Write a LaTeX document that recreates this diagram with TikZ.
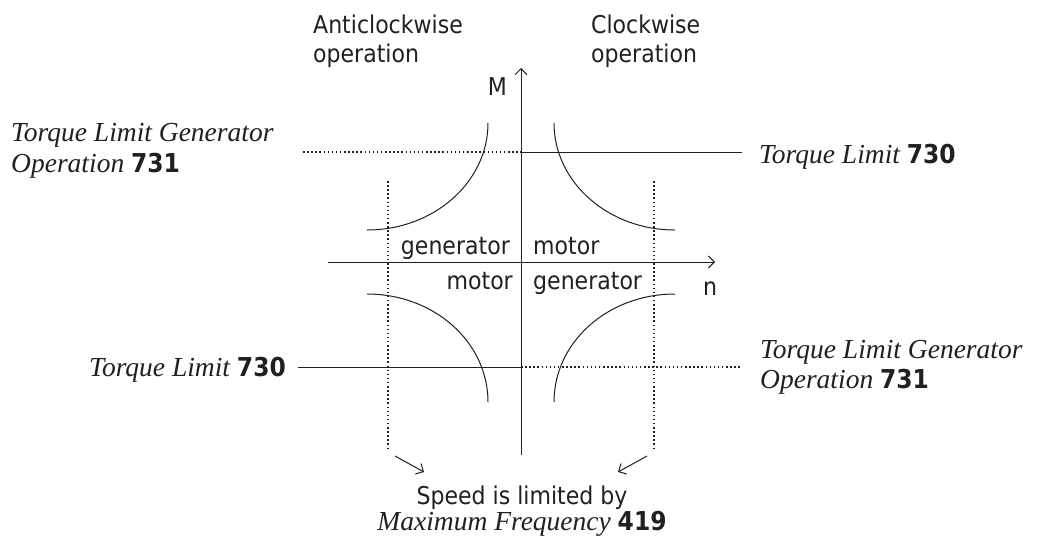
\documentclass[tikz,border=0pt]{standalone}
\usepackage{fontspec}
\setmainfont{Liberation Serif}
\setsansfont{DejaVu Sans Condensed}
\usetikzlibrary{arrows.meta}
\definecolor{ink}{HTML}{231F20}
\begin{document}
\begin{tikzpicture}[x=1pt,y=-1pt,
  solidline/.style={draw=ink, line width=1pt},
  dotline/.style={draw=ink, line width=1.5pt, dash pattern=on 1.5pt off 2.6pt},
  tipline/.style={draw=ink, line width=1pt, -{Straight Barb[length=6pt,width=12pt]}},
  sans/.style={font=\fontsize{24.5}{28}\selectfont\sffamily, inner sep=0pt, text=ink},
  ital/.style={font=\fontsize{27.5}{32}\selectfont\itshape, inner sep=0pt, text=ink}]
\newcommand{\bnum}[1]{{\upshape\sffamily\bfseries\fontsize{26}{28}\selectfont #1}}
\fill[white] (0,0) rectangle (1041,542);
\useasboundingbox (0,0) rectangle (1041,542);

% axes
\coordinate (ybot) at (521,455);
\coordinate (ytop) at (521,68);
\coordinate (xleft) at (328,262);
\coordinate (xright) at (715,262);
\draw[tipline] (ybot) -- (ytop);
\draw[tipline] (xleft) -- (xright);

% torque limit lines
\coordinate (tl1) at (303,152);
\coordinate (tm) at (521,152);
\coordinate (tr) at (742,152);
\draw[dotline] (tl1) -- (tm);
\draw[solidline] (tm) -- (tr);
\coordinate (bl1) at (298,367);
\coordinate (bm) at (521,367);
\coordinate (br) at (740,367);
\draw[solidline] (bl1) -- (bm);
\draw[dotline] (bm) -- (br);

% speed limit lines
\coordinate (vl1) at (388,181);
\coordinate (vl2) at (388,450);
\coordinate (vr1) at (654,181);
\coordinate (vr2) at (654,450);
\draw[dotline] (vl1) -- (vl2);
\draw[dotline] (vr1) -- (vr2);

% curves
\draw[solidline] (488,123) .. controls (488,182) and (434,230) .. (367,230);
\draw[solidline] (554,123) .. controls (554,182) and (608,230) .. (675,230);
\draw[solidline] (367,294) .. controls (434,294) and (488,342) .. (488,402);
\draw[solidline] (675,294) .. controls (608,294) and (554,342) .. (554,402);

% texts
\node[sans, anchor=base west] (acw1) at (313,33) {Anticlockwise};
\node[sans, anchor=base west] (acw2) at (313,62) {operation};
\node[sans, anchor=base west] (cw1) at (591,33) {Clockwise};
\node[sans, anchor=base west] (cw2) at (591,62) {operation};
\node[sans, anchor=base east] (M) at (507,95) {M};
\node[sans, anchor=base west] (n) at (703,295) {n};
\node[sans, anchor=base east] (gen1) at (510,254) {generator};
\node[sans, anchor=base west] (mot1) at (533,254) {motor};
\node[sans, anchor=base east] (mot2) at (513,289) {motor};
\node[sans, anchor=base west] (gen2) at (533,289) {generator};

\node[ital, anchor=base west] (tlgl1) at (11,141) {Torque Limit Generator};
\node[ital, anchor=base west] (tlgl2) at (11,172) {Operation \bnum{731}};
\node[ital, anchor=base west] (tlr) at (759,163) {Torque Limit \bnum{730}};
\node[ital, anchor=base east] (tll) at (286,376) {Torque Limit \bnum{730}};
\node[ital, anchor=base west] (tlgr1) at (760,358) {Torque Limit Generator};
\node[ital, anchor=base west] (tlgr2) at (760,388) {Operation \bnum{731}};

\node[sans, anchor=base] (speed1) at (522,504) {Speed is limited by};
\node[ital, anchor=base] (speed2) at (522,530) {Maximum Frequency \bnum{419}};

% arrows to speed text
\coordinate (al1) at (395,456);
\coordinate (al2) at (424,472);
\coordinate (ar1) at (647,456);
\coordinate (ar2) at (618,472);
\draw[tipline] (al1) -- (al2);
\draw[tipline] (ar1) -- (ar2);
\end{tikzpicture}
\end{document}
